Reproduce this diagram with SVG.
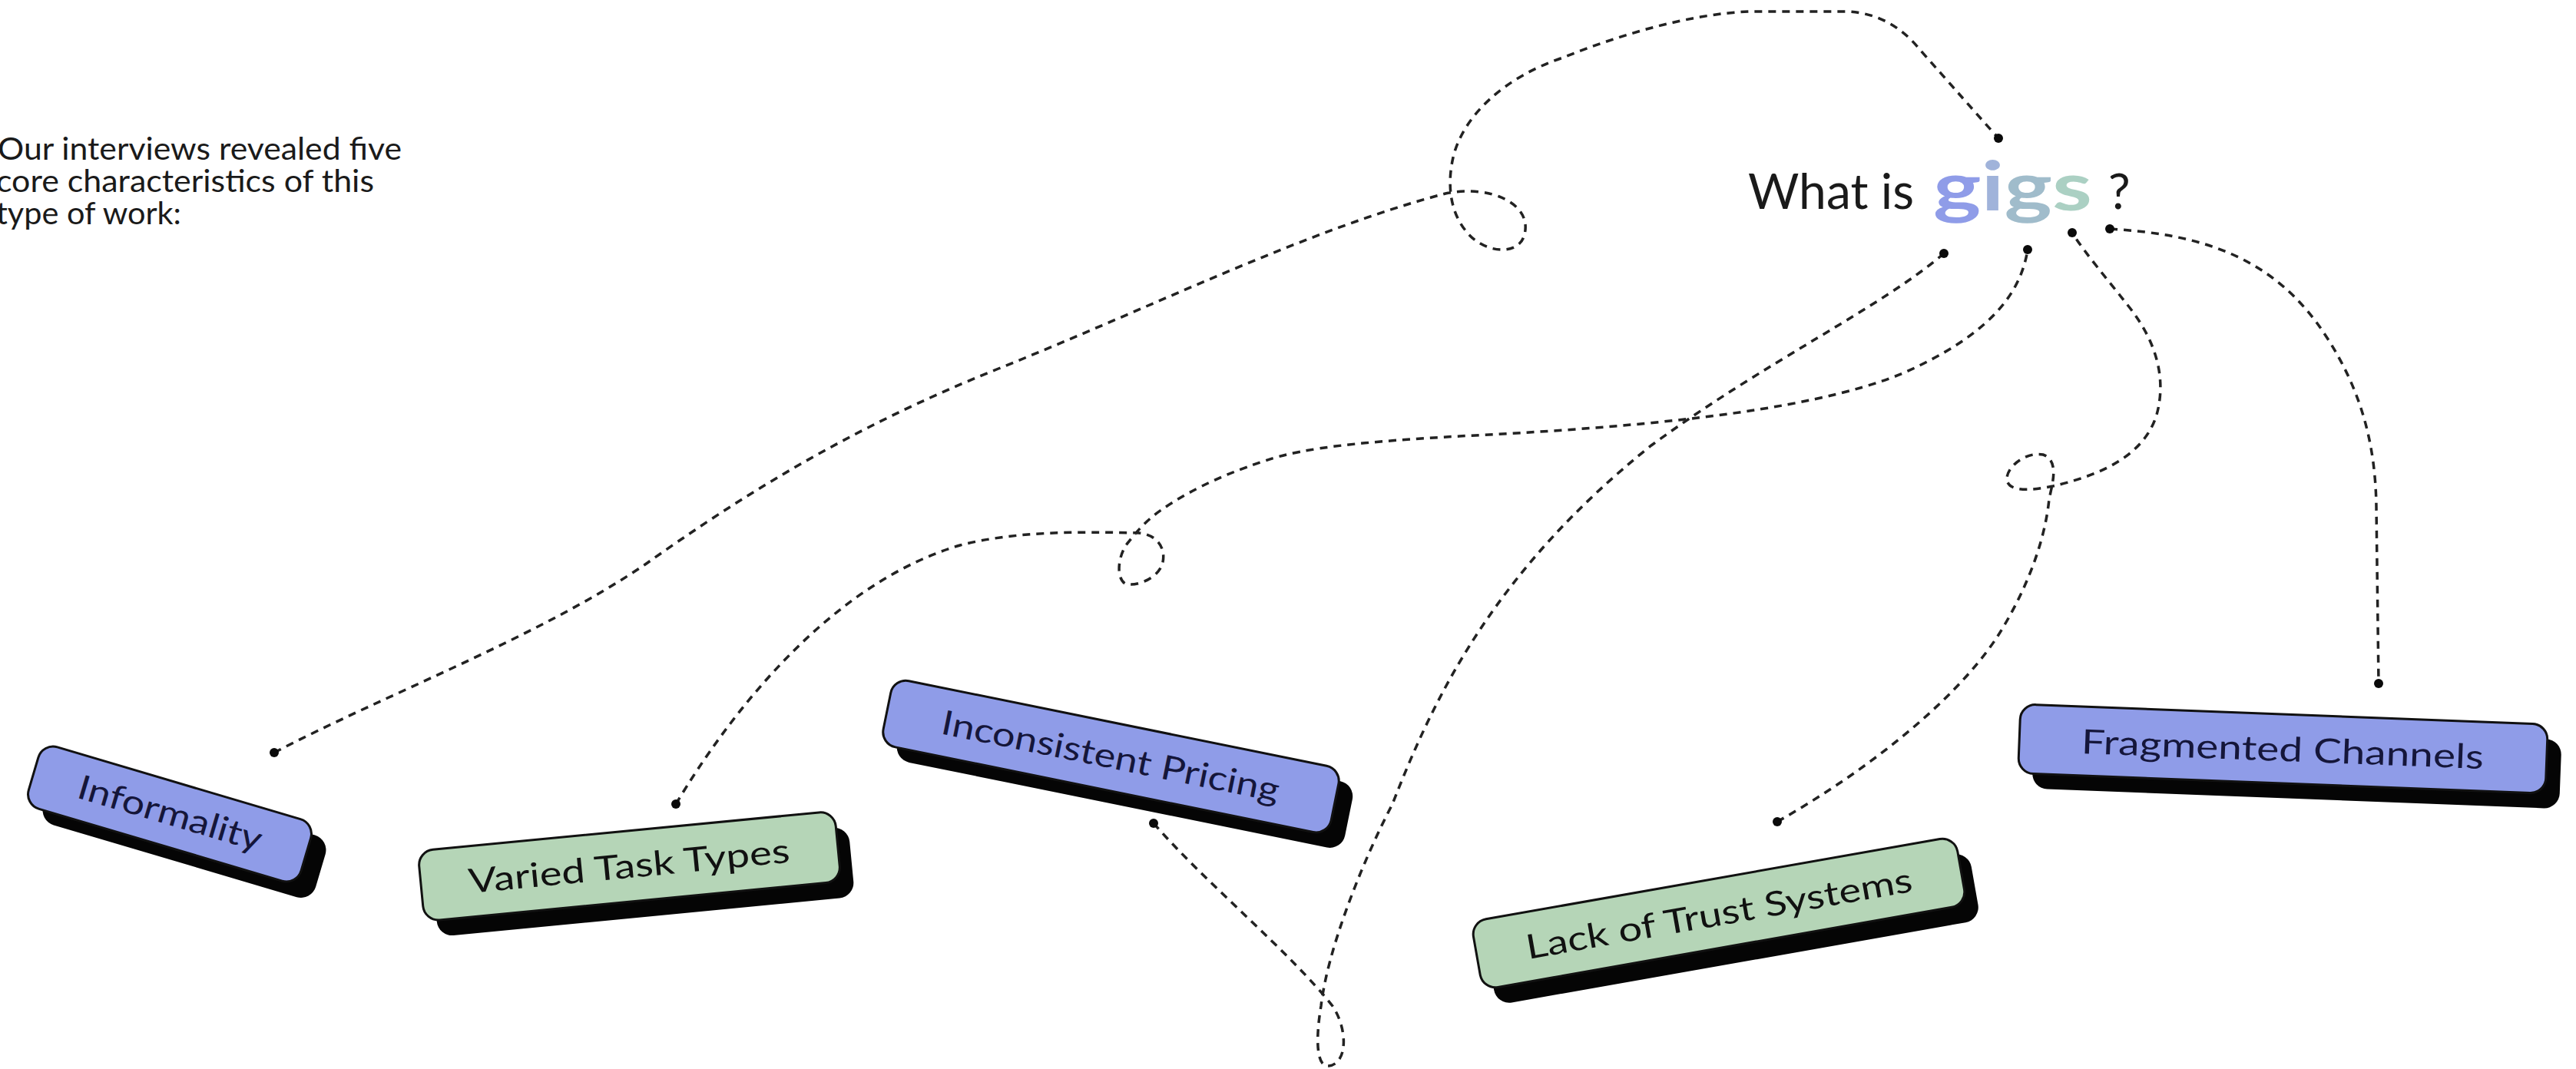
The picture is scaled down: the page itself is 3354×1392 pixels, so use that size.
<svg xmlns="http://www.w3.org/2000/svg" width="3354" height="1392" viewBox="0 0 3354 1392">
  <style>
    .txt { font-family: Lato, "Open Sans", "Liberation Sans", sans-serif; fill: #1a1a1a; }
    .lbl { font-family: Lato, "Open Sans", "Liberation Sans", sans-serif; font-size: 44px; text-anchor: middle; }
    .blue { fill: #8f9ce8; stroke: #111; stroke-width: 3; }
    .green { fill: #b5d5b7; stroke: #111; stroke-width: 3; }
    .shadow { fill: #050505; }
    .navy { fill: #15163a; }
    .dark { fill: #111111; }
    .conn { fill: none; stroke: #222; stroke-width: 3.5; stroke-dasharray: 10 8; stroke-linecap: butt; }
    .dot { fill: #0a0a0a; }
  </style>
  <rect width="3354" height="1392" fill="#ffffff"/>

  <g id="intro">
    <text class="txt" font-size="40" x="-3" y="208" textLength="526" lengthAdjust="spacingAndGlyphs">Our interviews revealed five</text>
    <text class="txt" font-size="40" x="-5" y="250" textLength="492" lengthAdjust="spacingAndGlyphs">core characteristics of this</text>
    <text class="txt" font-size="40" x="-5" y="292" textLength="241" lengthAdjust="spacingAndGlyphs">type of work:</text>
  </g>

  <g id="title">
    <text class="txt" font-size="64" x="2276" y="272" textLength="216" lengthAdjust="spacingAndGlyphs">What is</text>
    <text font-family="Lato, 'Open Sans', sans-serif" font-weight="bold" font-size="88" x="2517" y="274" textLength="207" lengthAdjust="spacingAndGlyphs"><tspan fill="#8f9ce8">g</tspan><tspan fill="#a0b3da">i</tspan><tspan fill="#a0bccb">g</tspan><tspan fill="#abd0c3">s</tspan></text>
    <text class="txt" font-size="64" x="2745" y="272">?</text>
  </g>

  <g id="connectors">
    <path class="conn" d="M357,980 C500,905 700,830 840,735 C960,650 1100,560 1300,480 C1500,400 1700,300 1882,252 C1940,240 1995,265 1985,305 C1978,335 1930,330 1908,300 C1888,275 1884,240 1892,205 C1905,150 1960,100 2035,75 C2110,45 2200,18 2278,15 L2405,15 C2450,17 2480,40 2500,65 C2540,110 2575,150 2602,180"/>
    <path class="conn" d="M880,1047 C950,930 1080,760 1250,710 C1320,692 1400,692 1483,694 C1505,696 1518,712 1514,732 C1510,752 1480,765 1465,760 C1452,752 1456,720 1470,705 C1480,692 1495,675 1515,662 C1540,645 1580,622 1647,600 C1700,582 1780,575 1900,568 C2100,558 2350,540 2480,485 C2580,440 2630,390 2640,325"/>
    <path class="conn" d="M1502,1072 C1570,1150 1680,1240 1735,1310 C1755,1340 1755,1385 1730,1388 C1712,1390 1714,1345 1720,1310 C1728,1240 1770,1130 1813,1047 C1870,900 1950,740 2150,580 C2300,470 2450,400 2531,330"/>
    <path class="conn" d="M2314,1070 C2420,1010 2540,920 2600,830 C2635,775 2662,710 2668,650 C2672,630 2682,600 2660,592 C2640,588 2615,605 2613,622 C2612,640 2640,640 2673,633 C2720,622 2790,600 2808,540 C2822,490 2805,440 2770,397 C2745,365 2715,330 2698,303"/>
    <path class="conn" d="M2747,298 C2860,305 2960,330 3030,440 C3075,510 3093,580 3094,660 L3097,890"/>
    <circle class="dot" cx="357" cy="980" r="6"/>
    <circle class="dot" cx="2602" cy="180" r="6"/>
    <circle class="dot" cx="880" cy="1047" r="6"/>
    <circle class="dot" cx="2640" cy="325" r="6"/>
    <circle class="dot" cx="1502" cy="1072" r="6"/>
    <circle class="dot" cx="2531" cy="330" r="6"/>
    <circle class="dot" cx="2314" cy="1070" r="6"/>
    <circle class="dot" cx="2698" cy="303" r="6"/>
    <circle class="dot" cx="2747" cy="298" r="6"/>
    <circle class="dot" cx="3097" cy="890" r="6"/>
  </g>

  <g id="node-informality">
    <rect class="shadow" transform="translate(240,1081) rotate(16.5)" x="-185" y="-42" width="370" height="84" rx="20"/>
    <g transform="translate(221,1060) rotate(16.5)">
      <rect class="blue" x="-185" y="-42" width="370" height="84" rx="20"/>
      <text class="lbl navy" font-size="42" x="0" y="14" textLength="248" lengthAdjust="spacingAndGlyphs">Informality</text>
    </g>
  </g>

  <g id="node-varied">
    <rect class="shadow" transform="translate(837,1148) rotate(-5.5)" x="-272" y="-46" width="545" height="92" rx="20"/>
    <g transform="translate(819,1128) rotate(-5.5)">
      <rect class="green" x="-272" y="-46" width="545" height="92" rx="20"/>
      <text class="lbl dark" font-size="44" x="0" y="15" textLength="420" lengthAdjust="spacingAndGlyphs">Varied Task Types</text>
    </g>
  </g>

  <g id="node-inconsistent">
    <rect class="shadow" transform="translate(1464,1005) rotate(11.5)" x="-297" y="-44" width="595" height="88" rx="20"/>
    <g transform="translate(1446,985) rotate(11.5)">
      <rect class="blue" x="-297" y="-44" width="595" height="88" rx="20"/>
      <text class="lbl navy" font-size="45" x="0" y="15" textLength="448" lengthAdjust="spacingAndGlyphs">Inconsistent Pricing</text>
    </g>
  </g>

  <g id="node-trust">
    <rect class="shadow" transform="translate(2256,1209) rotate(-10)" x="-320" y="-45" width="640" height="90" rx="20"/>
    <g transform="translate(2238,1189) rotate(-10)">
      <rect class="green" x="-320" y="-45" width="640" height="90" rx="20"/>
      <text class="lbl dark" font-size="47" x="0" y="16" textLength="510" lengthAdjust="spacingAndGlyphs">Lack of Trust Systems</text>
    </g>
  </g>

  <g id="node-fragmented">
    <rect class="shadow" transform="translate(2990,995) rotate(2.2)" x="-343" y="-45" width="687" height="90" rx="20"/>
    <g transform="translate(2972,975) rotate(2.2)">
      <rect class="blue" x="-343" y="-45" width="687" height="90" rx="20"/>
      <text class="lbl navy" font-size="47" x="0" y="16" textLength="524" lengthAdjust="spacingAndGlyphs">Fragmented Channels</text>
    </g>
  </g>
</svg>
